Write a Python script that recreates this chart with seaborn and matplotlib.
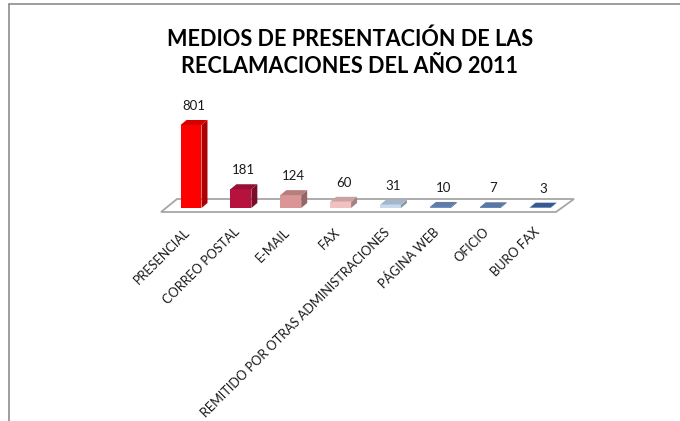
import matplotlib
matplotlib.use("Agg")
import matplotlib.pyplot as plt
import matplotlib.transforms as mtransforms
from matplotlib.patches import Polygon
from matplotlib.lines import Line2D
import matplotlib.colors as mcolors
import seaborn as sns
import pandas as pd
import numpy as np

categories = ["PRESENCIAL", "CORREO POSTAL", "E-MAIL", "FAX",
              "REMITIDO POR OTRAS ADMINISTRACIONES", "PÁGINA WEB", "OFICIO", "BURO FAX"]
values = [801, 181, 124, 60, 31, 10, 7, 3]
front_colors = ["#FF0000", "#B5123E", "#D99694", "#F2C0C0",
                "#C6D9F1", "#7192C6", "#6C8EC2", "#3E6CB0"]
title = "MEDIOS DE PRESENTACIÓN DE LAS\nRECLAMACIONES DEL AÑO 2011"

sns.set_theme(style="white")
plt.rcParams['font.family'] = ['Lato', 'DejaVu Sans']

W, H = 680, 421
fig = plt.figure(figsize=(W / 100, H / 100), dpi=100)
fig.patch.set_facecolor("white")

# axes placed in pixel terms
ax_left, ax_right = 161, 556
ax_bottom, ax_top = 212, 100
ax = fig.add_axes([ax_left / W, (H - ax_bottom) / H, (ax_right - ax_left) / W, (ax_bottom - ax_top) / H])

df = pd.DataFrame({"cat": categories, "val": values})
sns.barplot(data=df, x="cat", y="val", hue="cat", palette=front_colors,
            width=0.42, legend=False, ax=ax, saturation=1, edgecolor="none", zorder=3)

ax.set_xlim(-0.602, 7.32)
ax.set_ylim(-38.6, 1042)
ax.axis("off")

fig.canvas.draw()
# pixel -> data scale for depth
inv = ax.transData.inverted()
p0 = inv.transform(ax.transData.transform((0, 0)))
p1 = inv.transform(ax.transData.transform((0, 0)) + np.array([6.0, 5.0]))
dx, dy = p1 - p0

# floor
fx = 16 / (ax_right - ax_left)
fx2 = 18 / (ax_right - ax_left)
fy = 13 / (ax_bottom - ax_top)
floor = Polygon([(0, 0), (1, 0), (1 + fx2, fy), (fx, fy)], closed=True,
                transform=ax.transAxes, facecolor="white", edgecolor="#A6A6A6",
                linewidth=1.3, clip_on=False, zorder=1)
ax.add_patch(floor)

for patch, col in zip(ax.patches[:len(values)], front_colors):
    x0 = patch.get_x()
    w = patch.get_width()
    h = patch.get_height()
    rgb = np.array(mcolors.to_rgb(col))
    side_c = rgb * 0.68
    top_c = rgb * 0.84
    side = Polygon([(x0 + w, 0), (x0 + w + dx, dy), (x0 + w + dx, h + dy), (x0 + w, h)],
                   closed=True, facecolor=side_c, edgecolor="none", zorder=3, clip_on=False)
    top = Polygon([(x0, h), (x0 + w, h), (x0 + w + dx, h + dy), (x0 + dx, h + dy)],
                  closed=True, facecolor=top_c, edgecolor="none", zorder=4, clip_on=False)
    ax.add_patch(side)
    ax.add_patch(top)
    patch.set_clip_on(False)
    lab_tr = mtransforms.offset_copy(ax.transData, fig=fig, x=0, y=14, units="dots")
    ax.text(x0 + w / 2 + dx / 2, h + dy, f"{int(h)}", transform=lab_tr,
            ha="center", va="center", fontsize=9.5, color="#1a1a1a", clip_on=False)

# category labels
for i, cat in enumerate(categories):
    ax.annotate(cat, xy=(i, 0), xycoords="data", xytext=(-3, -(230 - 208)),
                textcoords="offset pixels", rotation=45, rotation_mode="anchor",
                ha="right", va="center", fontsize=9.2, color="#1a1a1a", annotation_clip=False)

fig.text(350 / W, 1 - 53 / H, title, ha="center", va="center", fontsize=15.6,
         fontweight="bold", color="#000000", linespacing=1.35)

# outer frame lines
fig.add_artist(Line2D([9 / W, 9 / W], [0, 1 - 4 / H], color="#8C8C8C", linewidth=1.2))
fig.add_artist(Line2D([9 / W, 1], [1 - 4 / H, 1 - 4 / H], color="#8C8C8C", linewidth=1.2))

fig.savefig("out.png", dpi=100, facecolor="white")
